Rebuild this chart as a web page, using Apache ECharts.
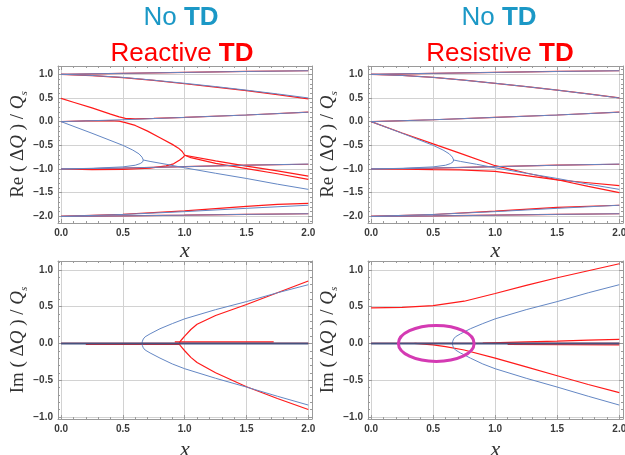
<!DOCTYPE html>
<html><head><meta charset="utf-8">
<script src="https://cdn.jsdelivr.net/npm/echarts@6/dist/echarts.min.js"></script>
<style>html,body{margin:0;padding:0;background:#fff}#c{width:625px;height:455px}</style>
</head><body><div id="c"></div>
<script>
// ---------- Titles ----------
const titleLeft = ['No ', 'TD', 'Reactive ', 'TD'];
const titleRight = ['No ', 'TD', 'Resistive ', 'TD'];

// ---------- Re(ΔQ)/Qs, no TD (blue) ----------
const reB1 = [[0,1.0],[0.5,1.02],[1,1.04],[1.5,1.06],[2,1.075]];
const reB2 = [[0,1.0],[0.25,0.975],[0.5,0.935],[0.75,0.875],[1,0.81],[1.25,0.74],[1.5,0.665],[1.75,0.585],[2,0.5]];
const reB3 = [[0,0],[0.5,0.04],[1,0.09],[1.5,0.14],[2,0.2]];
const reB4a = [[0,0],[0.25,-0.245],[0.5,-0.5],[0.58,-0.6],[0.63,-0.68],[0.655,-0.75],[0.665,-0.81]];
const reB4b = [[0,-1.0],[0.25,-0.985],[0.5,-0.955],[0.6,-0.92],[0.64,-0.885],[0.66,-0.85],[0.665,-0.81]];
const reB5 = [[0.665,-0.81],[0.72,-0.84],[0.85,-0.9],[1,-0.975],[1.25,-1.09],[1.5,-1.2],[1.75,-1.32],[2,-1.43]];
const reB6 = [[0,-1.0],[0.5,-0.98],[1,-0.95],[1.5,-0.92],[2,-0.895]];
const reB7 = [[0,-2.0],[0.5,-1.96],[1,-1.9],[1.5,-1.83],[2,-1.765]];
const reB8 = [[0,-2.0],[0.5,-1.99],[1,-1.975],[1.5,-1.958],[2,-1.945]];

// ---------- Re, reactive TD (red) ----------
const reR1 = [[0,1.0],[0.5,1.02],[1,1.04],[1.5,1.06],[2,1.075]];
const reR2 = [[0,1.0],[0.25,0.972],[0.5,0.93],[0.75,0.87],[1,0.8],[1.25,0.73],[1.5,0.655],[1.75,0.57],[2,0.48]];
const reR3a = [[0,0.49],[0.1,0.41],[0.25,0.29],[0.4,0.16],[0.47,0.1],[0.52,0.07],[0.6,0.06],[0.75,0.07],[1,0.09],[1.5,0.14],[2,0.2]];
const reR3b = [[0,0],[0.2,0.015],[0.4,0.02],[0.47,0.01],[0.52,-0.02],[0.6,-0.08],[0.7,-0.2],[0.8,-0.34],[0.9,-0.48],[0.95,-0.56],[0.98,-0.63],[1.0,-0.71]];
const reR4 = [[0,-1.0],[0.25,-1.015],[0.5,-1.01],[0.72,-0.98],[0.85,-0.935],[0.91,-0.89],[0.96,-0.81],[0.99,-0.745],[1.0,-0.71]];
const reR5a = [[1.0,-0.71],[1.25,-0.83],[1.5,-0.94],[1.75,-1.04],[2,-1.15]];
const reR5b = [[1.0,-0.71],[1.05,-0.76],[1.25,-0.88],[1.5,-0.99],[1.75,-1.1],[2,-1.22]];
const reR6 = [[0,-1.0],[0.5,-0.98],[1,-0.95],[1.5,-0.92],[2,-0.9]];
const reR7 = [[0,-2.0],[0.5,-1.955],[1,-1.885],[1.5,-1.79],[1.75,-1.745],[2,-1.725]];
const reR8 = [[0,-2.0],[0.5,-1.99],[1,-1.975],[1.5,-1.958],[2,-1.945]];

// ---------- Re, resistive TD (red) ----------
const rsR1 = [[0,1.0],[0.5,1.02],[1,1.04],[1.5,1.06],[2,1.075]];
const rsR2 = [[0,1.0],[0.25,0.975],[0.5,0.935],[0.75,0.875],[1,0.81],[1.25,0.74],[1.5,0.665],[1.75,0.585],[2,0.5]];
const rsR3 = [[0,0],[0.5,0.04],[1,0.09],[1.5,0.14],[2,0.2]];
const rsR4 = [[0,0],[0.25,-0.24],[0.5,-0.47],[0.714,-0.665],[1,-0.93],[1.25,-1.085],[1.5,-1.227],[1.75,-1.365],[2,-1.5]];
const rsR5 = [[0,-1.0],[0.25,-1.005],[0.5,-1.015],[0.714,-1.02],[1,-1.05],[1.25,-1.14],[1.5,-1.23],[1.75,-1.29],[2,-1.35]];
const rsR6 = [[0,-1.0],[0.5,-0.98],[1,-0.95],[1.5,-0.92],[2,-0.9]];
const rsR7 = [[0,-2.0],[0.5,-1.96],[1,-1.89],[1.5,-1.81],[2,-1.765]];
const rsR8 = [[0,-2.0],[0.5,-1.99],[1,-1.975],[1.5,-1.958],[2,-1.945]];

// ---------- Im(ΔQ)/Qs, no TD (blue) ----------
const imB0 = [[0,0],[2,0]];
const imBup = [[0.655,0],[0.658,0.03],[0.665,0.06],[0.68,0.09],[0.72,0.13],[0.8,0.2],[0.9,0.27],[1,0.335],[1.25,0.46],[1.5,0.57],[1.75,0.69],[2,0.8]];
const imBdn = [[0.655,0],[0.658,-0.03],[0.665,-0.06],[0.68,-0.09],[0.72,-0.13],[0.8,-0.2],[0.9,-0.28],[1,-0.345],[1.25,-0.475],[1.5,-0.595],[1.75,-0.72],[2,-0.84]];

// ---------- Im, reactive TD (red) ----------
const imR0 = [[0,0],[2,0]];
const imRneg = [[0.2,-0.015],[0.96,-0.015]];
const imRpos = [[0.92,0.02],[1.72,0.02]];
const imRup = [[0.955,0],[0.965,0.03],[0.98,0.06],[1,0.1],[1.05,0.19],[1.1,0.26],[1.25,0.38],[1.5,0.53],[1.75,0.69],[2,0.85]];
const imRdn = [[0.955,0],[0.965,-0.03],[0.98,-0.06],[1,-0.1],[1.05,-0.19],[1.1,-0.26],[1.25,-0.4],[1.5,-0.59],[1.75,-0.75],[2,-0.9]];

// ---------- Im, resistive TD (red) ----------
const imSR0 = [[0,0],[2,0]];
const imSRtop = [[0,0.485],[0.25,0.49],[0.5,0.515],[0.75,0.575],[1,0.68],[1.25,0.79],[1.5,0.895],[1.75,0.99],[2,1.085]];
const imSRdn = [[0.35,0],[0.5,-0.02],[0.6,-0.045],[0.75,-0.09],[1,-0.2],[1.25,-0.32],[1.5,-0.44],[1.75,-0.56],[2,-0.67]];
const imSRpos = [[0.9,0.005],[1.25,0.02],[1.5,0.03],[1.75,0.045],[2,0.055]];
const imSRneg = [[1.1,-0.015],[2,-0.02]];

// highlighted region (centre x, centre y, half-width, half-height) in data units
const ellipseData = [[0.525, 0.0, 0.305, 0.245]];

// axis ranges
const xRange = [-0.025, 2.03];
const reRange = [-2.14, 1.175];
const imRange = [-1.03, 1.123];

// ---------- build ----------
const RED = '#ff1a1a', BLUE = '#6487c4', TEAL = '#1b98c6', ZERO = '#46517e';
const fmt = v => v.toFixed(1).replace('-', '\u2212');
const serif = 'Liberation Serif, Times New Roman, serif';
const sans = 'Liberation Sans, Arial, sans-serif';

const grids = [
  {left:58, top:66, width:254, height:157, outerBoundsMode:'none', containLabel:false},
  {left:368, top:66, width:255, height:157, outerBoundsMode:'none', containLabel:false},
  {left:58, top:261, width:254, height:158, outerBoundsMode:'none', containLabel:false},
  {left:368, top:261, width:255, height:158, outerBoundsMode:'none', containLabel:false}
];
const panels = [
  {y: reRange, sn: 6, name: 'Re', gap: 17, red: [reR1,reR2,reR3a,reR3b,reR4,reR5a,reR5b,reR6,reR7,reR8], blue: [reB1,reB2,reB3,reB4a,reB4b,reB5,reB6,reB7,reB8], zero: []},
  {y: reRange, sn: 6, name: 'Re', gap: 17, red: [rsR1,rsR2,rsR3,rsR4,rsR5,rsR6,rsR7,rsR8], blue: [reB1,reB2,reB3,reB4a,reB4b,reB5,reB6,reB7,reB8], zero: []},
  {y: imRange, sn: 4, name: 'Im', gap: 20, red: [imR0,imRneg,imRpos,imRup,imRdn], blue: [imBup,imBdn], zero: [imB0]},
  {y: imRange, sn: 4, name: 'Im', gap: 20, red: [imSR0,imSRtop,imSRdn,imSRpos,imSRneg], blue: [imBup,imBdn], zero: [imB0]}
];

const frameLine = {show:true, onZero:false, lineStyle:{color:'#9a9a9a', width:1}};
const tickStyle = {color:'#9a9a9a', width:1};
const xAxis = [], yAxis = [], series = [];
panels.forEach((p, g) => {
  const common = (pos) => ({
    type:'value', gridIndex:g, position:pos,
    axisLine: frameLine,
    axisTick: {show:true, inside:true, length:4, interval:0, lineStyle:tickStyle},
    minorTick: {show:true, splitNumber:5, length:2, lineStyle:tickStyle}
  });
  xAxis.push(Object.assign(common('bottom'), {
    min:xRange[0], max:xRange[1], splitNumber:4,
    axisLabel:{show:true, interval:0, showMinLabel:false, showMaxLabel:false, formatter:fmt, fontSize:10, fontWeight:'bold', fontFamily:sans, color:'#3a3a3a', margin:5},
    splitLine:{show:true, lineStyle:{color:'#d2d2d2', width:1}},
    name:'x', nameLocation:'middle', nameGap:p.gap,
    nameTextStyle:{fontFamily:serif, fontStyle:'italic', fontSize:22, color:'#333'}
  }));
  xAxis.push(Object.assign(common('top'), {
    min:xRange[0], max:xRange[1], splitNumber:4,
    axisLabel:{show:false}, splitLine:{show:false}
  }));
  yAxis.push(Object.assign(common('left'), {
    min:p.y[0], max:p.y[1], splitNumber:p.sn,
    axisLabel:{show:true, interval:0, showMinLabel:false, showMaxLabel:false, formatter:fmt, fontSize:10, fontWeight:'bold', fontFamily:sans, color:'#3a3a3a', margin:5},
    splitLine:{show:true, lineStyle:{color:'#d2d2d2', width:1}},
    name:'{r|' + p.name + ' ( \u0394}{q|Q}{r| ) / }{q|Q}{s|s}',
    nameLocation:'middle', nameRotate:90, nameGap:27,
    nameTextStyle:{rich:{
      r:{fontFamily:serif, fontSize:19, color:'#333', lineHeight:22},
      q:{fontFamily:serif, fontSize:19, fontStyle:'italic', color:'#333', lineHeight:22},
      s:{fontFamily:serif, fontSize:11, fontStyle:'italic', color:'#333', lineHeight:11, verticalAlign:'bottom'}
    }}
  }));
  yAxis.push(Object.assign(common('right'), {
    min:p.y[0], max:p.y[1], splitNumber:p.sn,
    axisLabel:{show:false}, splitLine:{show:false}
  }));
  p.red.forEach(d => series.push({
    type:'line', xAxisIndex:2*g, yAxisIndex:2*g, data:d, showSymbol:false, smooth:false,
    lineStyle:{color:RED, width:1.2}, silent:true, z:2
  }));
  p.blue.forEach(d => series.push({
    type:'line', xAxisIndex:2*g, yAxisIndex:2*g, data:d, showSymbol:false, smooth:false,
    lineStyle:{color:BLUE, width:1}, silent:true, z:3
  }));
  p.zero.forEach(d => series.push({
    type:'line', xAxisIndex:2*g, yAxisIndex:2*g, data:d, showSymbol:false,
    lineStyle:{color:ZERO, width:2}, silent:true, z:4
  }));
});
series.push({
  type:'custom', xAxisIndex:6, yAxisIndex:6, data:ellipseData, encode:{x:0, y:1}, silent:true, z:10,
  renderItem:(params, api) => {
    const c = api.coord([api.value(0), api.value(1)]);
    const e = api.coord([api.value(0) + api.value(2), api.value(1) + api.value(3)]);
    return {type:'ellipse', shape:{cx:c[0], cy:c[1], rx:Math.abs(e[0]-c[0]), ry:Math.abs(c[1]-e[1])},
      style:{fill:null, stroke:'#d43ab3', lineWidth:3}};
  }
});

function titleText(parts, cx, cy, color) {
  return {type:'text', x:cx, y:cy, silent:true, style:{
    text:'{n|' + parts[0] + '}{b|' + parts[1] + '}', align:'center', verticalAlign:'middle',
    rich:{ n:{fontFamily:sans, fontSize:26, fill:color},
           b:{fontFamily:sans, fontSize:26, fontWeight:'bold', fill:color} }
  }};
}
const graphic = [
  titleText([titleLeft[0], titleLeft[1]], 181, 18, TEAL),
  titleText([titleLeft[2], titleLeft[3]], 182, 54, '#ff0000'),
  titleText([titleRight[0], titleRight[1]], 499, 18, TEAL),
  titleText([titleRight[2], titleRight[3]], 500, 54, '#ff0000')
];

const chart = echarts.init(document.getElementById('c'), null, {renderer:'canvas'});
chart.setOption({animation:false, backgroundColor:'#fff', grid:grids, xAxis, yAxis, series, graphic});
</script></body></html>
